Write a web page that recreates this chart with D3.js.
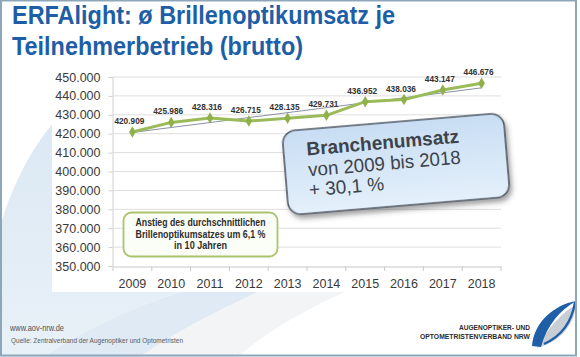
<!DOCTYPE html>
<html>
<head>
<meta charset="utf-8">
<script src="https://cdn.jsdelivr.net/npm/d3@7"></script>
<style>
  html, body { margin: 0; padding: 0; background: #fff; }
  svg { display: block; }
</style>
</head>
<body>
<div id="chart"></div>
<script>
// ---- data ----
const years = ["2009","2010","2011","2012","2013","2014","2015","2016","2017","2018"];
const values = [420909, 425986, 428316, 426715, 428135, 429731, 436952, 438036, 443147, 446676];
const yTicks = [350000, 360000, 370000, 380000, 390000, 400000, 410000, 420000, 430000, 440000, 450000];
const titleLines = ["ERFAlight: ø Brillenoptikumsatz je", "Teilnehmerbetrieb (brutto)"];
const noteLines = ["Anstieg des durchschnittlichen", "Brillenoptikumsatzes um 6,1 %", "in 10 Jahren"];
const calloutLines = ["Branchenumsatz", "von 2009 bis 2018", "+ 30,1 %"];
const footerLines = ["www.aov-nrw.de", "Quelle: Zentralverband der Augenoptiker und Optometristen"];
const logoLines = ["AUGENOPTIKER- UND", "OPTOMETRISTENVERBAND NRW"];

const W = 580, H = 357;
const de = d3.formatLocale({decimal: ",", thousands: ".", grouping: [3], currency: ["", "€"]});
const fmt = de.format(",.0f");

const svg = d3.select("#chart").append("svg").attr("width", W).attr("height", H);
const defs = svg.append("defs");
const grad = defs.append("linearGradient").attr("id", "cg").attr("x1", 0).attr("y1", 0).attr("x2", 0).attr("y2", 1);
grad.append("stop").attr("offset", "0%").attr("stop-color", "#c8ddf3");
grad.append("stop").attr("offset", "100%").attr("stop-color", "#e4f0fb");
const f = defs.append("filter").attr("id", "sh").attr("x", "-20%").attr("y", "-20%").attr("width", "140%").attr("height", "150%");
f.append("feDropShadow").attr("dx", 2).attr("dy", 4).attr("stdDeviation", 2.5)
  .attr("flood-color", "#333").attr("flood-opacity", 0.45);
const bg = defs.append("linearGradient").attr("id", "bgb").attr("x1", 0).attr("y1", 0).attr("x2", 0).attr("y2", 1);
bg.append("stop").attr("offset", "0%").attr("stop-color", "#dbe8f3");
bg.append("stop").attr("offset", "100%").attr("stop-color", "#e9f1f8");

// ---- background swooshes ----
svg.append("rect").attr("width", W).attr("height", H).attr("fill", "#fff");
svg.append("path").attr("fill", "url(#bgb)")
  .attr("d", "M54 122 C 30 150, 10 190, 0 228 L 0 357 L 45 357 C 80 330, 140 305, 180 292 L 54 292 Z");
svg.append("path").attr("fill", "#dfeaf4")
  .attr("d", "M180 292 L 258 292 C 215 312, 170 335, 140 357 L 45 357 C 80 330, 140 305, 180 292 Z");
svg.append("path").attr("fill", "#f2f4f6")
  .attr("d", "M258 292 L 345 292 C 300 312, 262 335, 238 357 L 140 357 C 170 335, 215 312, 258 292 Z");
// chart area (white)
svg.append("rect").attr("x", 52).attr("y", 64).attr("width", 470).attr("height", 228).attr("fill", "#fff");

// ---- title ----
const title = svg.append("g").attr("font-family", "Liberation Sans, Arial, sans-serif")
  .attr("font-weight", "bold").attr("font-size", 25).attr("fill", "#1d5ea7");
title.append("text").attr("x", 12).attr("y", 24).attr("textLength", 383)
  .attr("lengthAdjust", "spacingAndGlyphs").text(titleLines[0]);
title.append("text").attr("x", 12).attr("y", 54.5).attr("textLength", 291)
  .attr("lengthAdjust", "spacingAndGlyphs").text(titleLines[1]);

// ---- scales ----
const x = d3.scaleBand().domain(years).range([113, 501]);
const y = d3.scaleLinear().domain([350000, 450000]).range([266, 77]);
const cx = d => x(d) + x.bandwidth() / 2;

// gridlines
svg.append("g").selectAll("line").data(yTicks.slice(1)).join("line")
  .attr("x1", 113).attr("x2", 501).attr("y1", d => y(d)).attr("y2", d => y(d))
  .attr("stroke", "#dedede").attr("stroke-width", 1);

// y axis
const yAxis = svg.append("g").attr("transform", "translate(112.5,0)")
  .call(d3.axisLeft(y).tickValues(yTicks).tickSize(4).tickPadding(8).tickFormat(fmt));
yAxis.select(".domain").attr("stroke", "#d0d0d0");
yAxis.selectAll(".tick line").attr("stroke", "#d0d0d0");
yAxis.selectAll("text").attr("font-family", "Liberation Sans, Arial, sans-serif")
  .attr("font-size", 12.5).attr("fill", "#3a3a3a");

// x axis
const xAxis = svg.append("g").attr("transform", "translate(0,266.5)")
  .call(d3.axisBottom(x).tickSize(0).tickPadding(13));
xAxis.select(".domain").attr("stroke", "#c8c8c8");
xAxis.selectAll("text").attr("font-family", "Liberation Sans, Arial, sans-serif")
  .attr("font-size", 12.5).attr("fill", "#3a3a3a");
const bounds = years.map(d => x(d)).concat([x(years[years.length - 1]) + x.bandwidth()]);
svg.append("g").selectAll("line").data(bounds).join("line")
  .attr("x1", d => d).attr("x2", d => d).attr("y1", 266.5).attr("y2", 271)
  .attr("stroke", "#c8c8c8");

// trend line (linear regression of the series)
const n = values.length;
const mx = d3.mean(d3.range(n)), my = d3.mean(values);
const slope = d3.sum(d3.range(n), i => (i - mx) * (values[i] - my)) / d3.sum(d3.range(n), i => (i - mx) ** 2);
const icpt = my - slope * mx;
svg.append("line")
  .attr("x1", cx(years[0])).attr("y1", y(icpt))
  .attr("x2", cx(years[n - 1])).attr("y2", y(icpt + slope * (n - 1)))
  .attr("stroke", "#8a93a3").attr("stroke-width", 1);

// series
const data = years.map((yr, i) => ({yr, v: values[i]}));
svg.append("path").datum(data)
  .attr("d", d3.line().x(d => cx(d.yr)).y(d => y(d.v)))
  .attr("fill", "none").attr("stroke", "#9bbb59").attr("stroke-width", 3).attr("stroke-linejoin", "round");
svg.append("g").selectAll("path").data(data).join("path")
  .attr("transform", d => `translate(${cx(d.yr)},${y(d.v)})`)
  .attr("d", d3.symbol(d3.symbolDiamond, 38))
  .attr("fill", "#8fb04a");
svg.append("g").selectAll("text").data(data).join("text")
  .attr("x", d => cx(d.yr) - 3).attr("y", d => y(d.v) - 8)
  .attr("text-anchor", "middle")
  .attr("font-family", "Liberation Sans, Arial, sans-serif").attr("font-weight", "bold")
  .attr("font-size", 9).attr("fill", "#333")
  .attr("textLength", 30).attr("lengthAdjust", "spacingAndGlyphs")
  .text(d => fmt(d.v));

// ---- note box (green) ----
svg.append("rect").attr("x", 123.5).attr("y", 212.5).attr("width", 154).attr("height", 44).attr("rx", 8)
  .attr("fill", "#fbfdf7").attr("stroke", "#a9c46c").attr("stroke-width", 1.8);
const note = svg.append("g").attr("font-family", "Liberation Sans, Arial, sans-serif")
  .attr("font-weight", "bold").attr("font-size", 10).attr("fill", "#2e2e2e").attr("text-anchor", "middle");
const noteLens = [130, 130, 53];
noteLines.forEach((t, i) => {
  note.append("text").attr("x", 200.5).attr("y", 226 + i * 11.7)
    .attr("textLength", noteLens[i]).attr("lengthAdjust", "spacingAndGlyphs").text(t);
});

// ---- callout (blue, rotated) ----
const co = svg.append("g").attr("transform", "translate(396,164) rotate(-4.8)");
co.append("rect").attr("x", -111).attr("y", -42).attr("width", 222).attr("height", 84).attr("rx", 13)
  .attr("fill", "url(#cg)").attr("stroke", "#4f5863").attr("stroke-width", 1.6).attr("filter", "url(#sh)");
const ct = co.append("g").attr("font-family", "Liberation Sans, Arial, sans-serif").attr("fill", "#3d434a");
ct.append("text").attr("x", -88).attr("y", -16).attr("font-size", 19).attr("font-weight", "bold")
  .attr("textLength", 153).attr("lengthAdjust", "spacingAndGlyphs").text(calloutLines[0]);
ct.append("text").attr("x", -88).attr("y", 5).attr("font-size", 19)
  .attr("textLength", 153).attr("lengthAdjust", "spacingAndGlyphs").text(calloutLines[1]);
ct.append("text").attr("x", -89).attr("y", 25).attr("font-size", 19).text(calloutLines[2]);

// ---- footer ----
svg.append("text").attr("x", 10).attr("y", 331).attr("font-family", "Liberation Sans, Arial, sans-serif")
  .attr("font-size", 9.5).attr("fill", "#505050").attr("textLength", 54).attr("lengthAdjust", "spacingAndGlyphs")
  .text(footerLines[0]);
svg.append("text").attr("x", 11).attr("y", 343).attr("font-family", "Liberation Sans, Arial, sans-serif")
  .attr("font-size", 6.3).attr("fill", "#5a5a5a").attr("textLength", 172).attr("lengthAdjust", "spacingAndGlyphs")
  .text(footerLines[1]);

// ---- logo ----
const lg = svg.append("g").attr("font-family", "Liberation Sans, Arial, sans-serif").attr("font-weight", "bold")
  .attr("font-size", 7.3).attr("fill", "#2b2b2b").attr("text-anchor", "end");
lg.append("text").attr("x", 530).attr("y", 329.5).attr("textLength", 71).attr("lengthAdjust", "spacingAndGlyphs").text(logoLines[0]);
lg.append("text").attr("x", 530).attr("y", 338.5).attr("textLength", 110).attr("lengthAdjust", "spacingAndGlyphs").text(logoLines[1]);
svg.append("path").attr("fill", "#c9ced5")
  .attr("d", "M537 348 C 548 328, 562 312, 576 305 C 574 324, 562 341, 537 348 Z");
svg.append("path").attr("fill", "#1f5fa8")
  .attr("d", "M532 346 C 534 322, 554 305, 576 301 C 560 310, 547 325, 541 347 Z");
svg.append("path").attr("fill", "none").attr("stroke", "#1f5fa8").attr("stroke-width", 2.2)
  .attr("d", "M575 302 C 572 321, 562 336, 544 344");

// ---- frame ----
svg.append("rect").attr("x", 1).attr("y", 0.5).attr("width", 575).attr("height", 355)
  .attr("fill", "none").attr("stroke", "#8ea6ba").attr("stroke-width", 2);
</script>
</body>
</html>
